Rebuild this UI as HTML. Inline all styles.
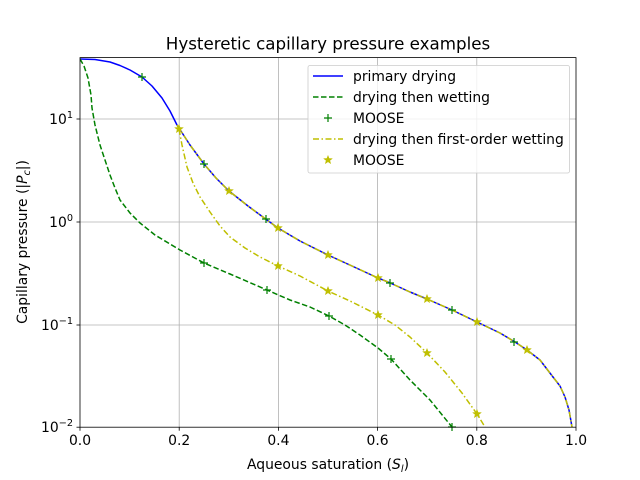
<!DOCTYPE html>
<html><head><style>body{margin:0;background:#fff}svg{display:block}text{font-family:"DejaVu Sans","Liberation Sans",sans-serif;fill:#000}</style></head>
<body>
<svg width="640" height="480" viewBox="0 0 640 480" xmlns="http://www.w3.org/2000/svg">
<defs>
<clipPath id="c"><rect x="80" y="57.6" width="496" height="369.6"/></clipPath>
<path id="pl" d="M-4 0H4M0 -4V4" stroke="#008000" stroke-width="1.2" fill="none"/>
<polygon id="st" points="0,-4.5 1.1,-1.5 4.3,-1.4 1.8,0.6 2.7,3.6 0,1.8 -2.7,3.6 -1.8,0.6 -4.3,-1.4 -1.1,-1.5" fill="#bfbf00" stroke="#bfbf00" stroke-width="0.5"/>
</defs>
<rect width="640" height="480" fill="#fff"/>
<g stroke="#b0b0b0" stroke-width="0.8">
<line x1="179.2" y1="57.6" x2="179.2" y2="427.2"/><line x1="278.4" y1="57.6" x2="278.4" y2="427.2"/><line x1="377.6" y1="57.6" x2="377.6" y2="427.2"/><line x1="476.8" y1="57.6" x2="476.8" y2="427.2"/>
<line x1="80" y1="119" x2="576" y2="119"/><line x1="80" y1="222" x2="576" y2="222"/><line x1="80" y1="325" x2="576" y2="325"/>
</g>
<g clip-path="url(#c)" fill="none" stroke-width="1.5" stroke-linejoin="round">
<path stroke="#0000ff" d="M80 59 L95 59.5 L110 62 L120 65.5 L130 70 L142 77 L152 86 L162 98 L170 111 L177 125 L190 145 L204 164 L216 178 L229 191 L248 206 L267 220 L278 228 L300 241 L328 255 L352 266 L378 278 L388 282 L410 292 L427 299 L452 310 L477 322 L500 333 L515 342 L527 350 L540 360 L553 377 L560 386 L565 397 L569 410 L572 427 L573 432"/>
<path stroke="#bfbf00" stroke-dasharray="6,2.5,1.5,2.5" d="M177 125 L190 145 L204 164 L216 178 L229 191 L248 206 L267 220 L278 228 L300 241 L328 255 L352 266 L378 278 L388 282 L410 292 L427 299 L452 310 L477 322 L500 333 L515 342 L527 350 L540 360 L553 377 L560 386 L565 397 L569 410 L572 427 L573 432"/>
<path stroke="#008000" stroke-dasharray="5.5,2.5" d="M80 59 L84 66 L88 78 L91 95 L92 108 L95 125 L100 145 L105 160 L110 175 L115 188 L120 200 L130 213 L140 223 L155 235 L180 250 L204 263 L230 274 L267 290 L290 300 L310 307 L329 316 L345 325 L360 335 L378 348 L391 359 L410 380 L430 400 L452 427 L456 432"/>
<path stroke="#bfbf00" stroke-dasharray="6,2.5,1.5,2.5" d="M179 129 L182 145 L187 167 L193 183 L200 197 L210 212 L220 226 L230 237 L245 248 L260 257 L278 266 L300 276 L328 291 L350 301 L378 315 L395 325 L410 337 L427 353 L445 372 L462 393 L477 414 L485 427 L488 432"/>
</g>
<g>
<use href="#pl" x="142" y="77"/><use href="#pl" x="204" y="263"/><use href="#pl" x="267" y="290"/><use href="#pl" x="329" y="316"/><use href="#pl" x="391" y="359"/><use href="#pl" x="452" y="427"/>
<use href="#pl" x="204" y="164"/><use href="#pl" x="266" y="219"/><use href="#pl" x="390" y="283"/><use href="#pl" x="452" y="310"/><use href="#pl" x="514" y="342"/>
<use href="#st" x="179" y="129"/><use href="#st" x="229" y="191"/><use href="#st" x="278" y="228"/><use href="#st" x="328" y="255"/><use href="#st" x="378" y="278"/><use href="#st" x="427" y="299"/><use href="#st" x="477" y="322"/><use href="#st" x="527" y="350"/>
<use href="#st" x="278" y="266"/><use href="#st" x="328" y="291"/><use href="#st" x="378" y="315"/><use href="#st" x="427" y="353"/><use href="#st" x="477" y="414"/>
</g>
<rect x="80" y="57.6" width="496" height="369.6" fill="none" stroke="#000" stroke-width="0.8"/>
<g stroke="#000" stroke-width="0.8">
<line x1="80" y1="427.2" x2="80" y2="430.7"/><line x1="179.2" y1="427.2" x2="179.2" y2="430.7"/><line x1="278.4" y1="427.2" x2="278.4" y2="430.7"/><line x1="377.6" y1="427.2" x2="377.6" y2="430.7"/><line x1="476.8" y1="427.2" x2="476.8" y2="430.7"/><line x1="576" y1="427.2" x2="576" y2="430.7"/>
<line x1="76.5" y1="119" x2="80" y2="119"/><line x1="76.5" y1="222" x2="80" y2="222"/><line x1="76.5" y1="325" x2="80" y2="325"/><line x1="76.5" y1="427.2" x2="80" y2="427.2"/>
</g>
<g font-size="13.9" text-anchor="middle">
<text x="80" y="445">0.0</text><text x="179.2" y="445">0.2</text><text x="278.4" y="445">0.4</text><text x="377.6" y="445">0.6</text><text x="476.8" y="445">0.8</text><text x="576" y="445">1.0</text>
</g>
<g font-size="13.9" text-anchor="end">
<text x="73" y="124">10<tspan dy="-6" font-size="9.7">1</tspan></text>
<text x="73" y="227">10<tspan dy="-6" font-size="9.7">0</tspan></text>
<text x="73" y="330">10<tspan dy="-6" font-size="9.7">−1</tspan></text>
<text x="73" y="432">10<tspan dy="-6" font-size="9.7">−2</tspan></text>
</g>
<text x="328" y="49.5" font-size="16.7" text-anchor="middle">Hysteretic capillary pressure examples</text>
<text x="328" y="469" font-size="13.9" text-anchor="middle">Aqueous saturation (<tspan font-style="italic">S</tspan><tspan font-size="9.7" dy="3" font-style="italic">l</tspan><tspan dy="-3">)</tspan></text>
<text transform="translate(27,242) rotate(-90)" font-size="13.9" text-anchor="middle">Capillary pressure (|<tspan font-style="italic">P</tspan><tspan font-size="9.7" dy="3" font-style="italic">c</tspan><tspan dy="-3">|)</tspan></text>
<rect x="308" y="65.5" width="261.5" height="107.5" rx="2" fill="#fff" fill-opacity="0.8" stroke="#ccc" stroke-width="0.8"/>
<line x1="313" y1="76" x2="343" y2="76" stroke="#0000ff" stroke-width="1.5"/>
<line x1="313" y1="97" x2="343" y2="97" stroke="#008000" stroke-width="1.5" stroke-dasharray="5.5,2.5"/>
<use href="#pl" x="328" y="118"/>
<line x1="313" y1="139" x2="343" y2="139" stroke="#bfbf00" stroke-width="1.5" stroke-dasharray="6,2.5,1.5,2.5"/>
<use href="#st" x="328" y="160"/>
<g font-size="13.9">
<text x="353" y="81">primary drying</text>
<text x="353" y="102">drying then wetting</text>
<text x="353" y="123">MOOSE</text>
<text x="353" y="144">drying then first-order wetting</text>
<text x="353" y="165">MOOSE</text>
</g>
</svg>
</body></html>
